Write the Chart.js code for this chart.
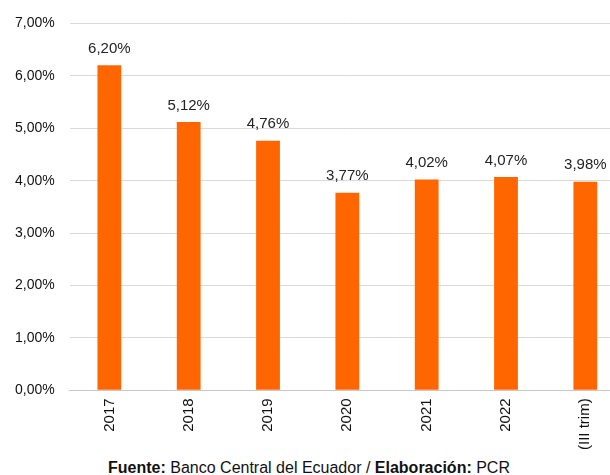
<!DOCTYPE html>
<html>
<head>
<meta charset="utf-8">
<script src="https://cdn.jsdelivr.net/npm/chart.js@4/dist/chart.umd.min.js"></script>
<style>
  html, body { margin: 0; padding: 0; background: #fff; overflow: hidden; }
  #wrap { position: relative; width: 625px; height: 458px; }
  #foot { position: absolute; left: 0; top: 459px; width: 618px; text-align: center;
          font: 16px "Liberation Sans", Arial, sans-serif; color: #111; }
</style>
</head>
<body>
<div id="wrap"><canvas id="myChart"></canvas></div>
<div id="foot"><b>Fuente:</b> Banco Central del Ecuador / <b>Elaboración:</b> PCR</div>
<script>
// tasa por año (en %)
var categories = ["2017", "2018", "2019", "2020", "2021", "2022", "(III trim)"];
var values = [6.20, 5.12, 4.76, 3.77, 4.02, 4.07, 3.98];
var yTicks = [0, 1, 2, 3, 4, 5, 6, 7];

function pct(v) {
    return v.toFixed(2).replace(".", ",") + "%";
}

// etiquetas encima de las barras
var valueLabels = {
    id: "valueLabels",
    afterDatasetsDraw: function (chart) {
        var ctx = chart.ctx;
        var meta = chart.getDatasetMeta(0);
        ctx.save();
        ctx.font = "15px 'Liberation Sans', Arial, sans-serif";
        ctx.fillStyle = "#222";
        ctx.textAlign = "center";
        ctx.textBaseline = "bottom";
        meta.data.forEach(function (bar, i) {
            ctx.fillText(pct(values[i]), bar.x, bar.y - 9);
        });
        ctx.restore();
    }
};

const ctx = document.getElementById("myChart");
new Chart(ctx, {
    type: "bar",
    data: {
        labels: categories,
        datasets: [{
            data: values,
            backgroundColor: "#FF6600",
            categoryPercentage: 1,
            barPercentage: 0.3
        }]
    },
    options: {
        responsive: true,
        maintainAspectRatio: false,
        animation: false,
        layout: { padding: { top: 22, left: 0, right: 0, bottom: 0 } },
        plugins: {
            legend: { display: false },
            tooltip: { enabled: false }
        },
        scales: {
            x: {
                grid: { display: false, drawTicks: false },
                border: { color: "#c8c8c8" },
                ticks: {
                    color: "#111",
                    font: { family: "'Liberation Sans', Arial, sans-serif", size: 15 },
                    minRotation: 90,
                    maxRotation: 90,
                    padding: 8
                }
            },
            y: {
                min: yTicks[0],
                max: yTicks[yTicks.length - 1],
                afterBuildTicks: function (axis) {
                    axis.ticks = yTicks.map(function (v) { return { value: v }; });
                },
                grid: { color: "#d9d9d9", drawTicks: false },
                border: { display: false },
                ticks: {
                    color: "#111",
                    font: { family: "'Liberation Sans', Arial, sans-serif", size: 14 },
                    padding: 15,
                    callback: function (v) { return pct(v); }
                }
            }
        }
    },
    plugins: [valueLabels]
});
</script>
</body>
</html>
